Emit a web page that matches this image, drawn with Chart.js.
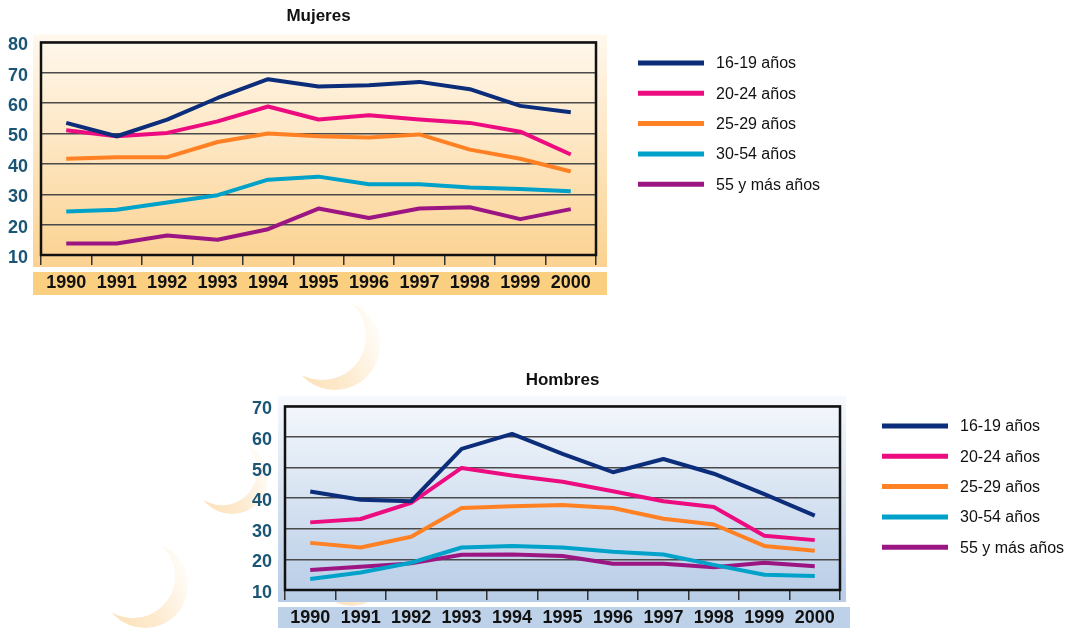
<!DOCTYPE html>
<html>
<head>
<meta charset="utf-8">
<script src="https://cdn.jsdelivr.net/npm/chart.js@4"></script>
<style>
html, body { margin: 0; padding: 0; background: #fff; }
body { width: 1077px; height: 628px; position: relative; overflow: hidden; }
#bg { position: absolute; left: 0; top: 0; }
.wrap { position: absolute; left: 0; width: 1077px; }
</style>
</head>
<body>
<canvas id="bg" width="1077" height="628"></canvas>
<div class="wrap" style="top:0;height:300px"><canvas id="mujeres"></canvas></div>
<div class="wrap" style="top:365px;height:263px"><canvas id="hombres"></canvas></div>
<script>
// data
var years = ['1990', '1991', '1992', '1993', '1994', '1995', '1996', '1997', '1998', '1999', '2000'];
var groups = ['16-19 años', '20-24 años', '25-29 años', '30-54 años', '55 y más años'];
var colors = ['#0B2D7A', '#EC0C80', '#FF8124', '#00A2C9', '#9B1683'];

var mujeres1619 = [53.5, 49.1, 54.6, 61.7, 67.9, 65.5, 65.9, 67.0, 64.6, 59.1, 57.0];
var mujeres2024 = [51.1, 49.1, 50.2, 54.0, 58.9, 54.6, 56.0, 54.6, 53.5, 50.6, 43.1];
var mujeres2529 = [41.7, 42.2, 42.2, 47.2, 50.0, 49.1, 48.7, 49.7, 44.7, 41.7, 37.5];
var mujeres3054 = [24.3, 24.9, 27.3, 29.7, 34.8, 35.8, 33.3, 33.3, 32.2, 31.7, 31.0];
var mujeres55 = [13.8, 13.8, 16.4, 15.0, 18.5, 25.3, 22.2, 25.3, 25.7, 21.8, 25.1];

var hombres1619 = [42.2, 39.5, 39.0, 56.1, 61.0, 54.5, 48.5, 52.8, 48.0, 41.3, 34.3];
var hombres2024 = [32.1, 33.2, 38.5, 49.9, 47.4, 45.4, 42.3, 39.0, 37.1, 27.7, 26.3];
var hombres2529 = [25.4, 23.9, 27.4, 36.8, 37.4, 37.8, 36.8, 33.3, 31.4, 24.4, 22.8];
var hombres3054 = [13.6, 15.7, 18.9, 23.9, 24.4, 23.9, 22.5, 21.6, 18.2, 15.0, 14.6];
var hombres55 = [16.5, 17.6, 18.7, 21.5, 21.6, 21.1, 18.6, 18.6, 17.4, 18.9, 17.8];

var FONT = '"Liberation Sans", Arial, sans-serif';

// pale crescents in the page background
function crescent(ctx, cx, cy, r, dx, dy) {
    var g = ctx.createLinearGradient(cx - r, cy + r * 0.6, cx + r, cy - r * 0.2);
    g.addColorStop(0, 'rgba(252,224,182,1)');
    g.addColorStop(0.5, 'rgba(253,234,206,1)');
    g.addColorStop(1, 'rgba(255,252,247,1)');
    ctx.fillStyle = g;
    ctx.beginPath();
    ctx.arc(cx, cy, r, 0, Math.PI * 2);
    ctx.fill();
    ctx.fillStyle = '#fff';
    ctx.beginPath();
    ctx.arc(cx + dx, cy + dy, r * 0.98, 0, Math.PI * 2);
    ctx.fill();
}
var bg = document.getElementById('bg').getContext('2d');
crescent(bg, 335, 345, 45, -13, -9);
crescent(bg, 232, 478, 36, -10, -8);
crescent(bg, 145, 585, 43, -12, -9);
crescent(bg, 352, 570, 36, -10, -8);

// panel, frame and legend drawn around the plot
var decor = {
    id: 'decor',
    beforeDraw: function (chart, args, o) {
        var ctx = chart.ctx, a = chart.chartArea;
        var l = a.left - o.padL, r = a.right + o.padR;
        var t = a.top - o.padT, b = a.bottom + o.padB;
        var g = ctx.createLinearGradient(0, t, 0, b);
        g.addColorStop(0, o.top);
        g.addColorStop(1, o.bottom);
        ctx.save();
        ctx.fillStyle = g;
        ctx.fillRect(l, t, r - l, b - t);
        ctx.fillStyle = o.band;
        ctx.fillRect(l, a.bottom + o.bandT, a.right + o.bandR - l, o.bandH);
        ctx.restore();
    },
    beforeDatasetsDraw: function (chart) {
        var ctx = chart.ctx, a = chart.chartArea;
        ctx.save();
        ctx.strokeStyle = '#111';
        ctx.lineWidth = 2.5;
        ctx.strokeRect(a.left, a.top, a.right - a.left, a.bottom - a.top);
        ctx.restore();
    },
    afterDraw: function (chart, args, o) {
        var ctx = chart.ctx;
        ctx.save();
        ctx.font = '16px ' + FONT;
        ctx.textBaseline = 'middle';
        chart.data.datasets.forEach(function (ds, i) {
            var y = o.legY + i * 30.3;
            ctx.strokeStyle = ds.borderColor;
            ctx.lineWidth = 5;
            ctx.beginPath();
            ctx.moveTo(o.legX, y);
            ctx.lineTo(o.legX + 66, y);
            ctx.stroke();
            ctx.fillStyle = '#111';
            ctx.fillText(ds.label, o.legX + 78, y + 1);
        });
        ctx.restore();
    }
};

function sets(list) {
    return list.map(function (d, i) {
        return {
            label: groups[i],
            data: d,
            borderColor: colors[i],
            backgroundColor: colors[i],
            borderWidth: 4,
            pointRadius: 0,
            tension: 0,
            borderJoinStyle: 'round'
        };
    });
}

function makeChart(id, title, data, yMax, cfg) {
    return new Chart(document.getElementById(id), {
        type: 'line',
        data: { labels: years, datasets: sets(data) },
        options: {
            responsive: true,
            maintainAspectRatio: false,
            animation: false,
            layout: { padding: { left: 0, right: cfg.padRight, top: 0, bottom: cfg.padBottom } },
            plugins: {
                legend: { display: false },
                tooltip: { enabled: false },
                title: {
                    display: true,
                    text: title,
                    fullSize: false,
                    color: '#111',
                    font: { family: FONT, size: 17, weight: 'bold' },
                    padding: { top: cfg.titleTop, bottom: cfg.titleBottom }
                },
                decor: cfg.decor
            },
            scales: {
                x: {
                    offset: true,
                    border: { display: false },
                    grid: { offset: true, drawOnChartArea: false, drawTicks: true, tickLength: 10, color: '#333', lineWidth: 1.5 },
                    ticks: { color: '#111', padding: 7, maxRotation: 0, autoSkip: false, font: { family: FONT, size: 18, weight: 'bold' } },
                    afterFit: function (s) { s.height = cfg.xHeight; }
                },
                y: {
                    min: 10,
                    max: yMax,
                    border: { display: false },
                    grid: { drawTicks: false, color: '#4a4a4a', lineWidth: 1.5 },
                    ticks: { stepSize: 10, padding: 13, labelOffset: 3, color: '#1B5575', font: { family: FONT, size: 18, weight: 'bold' } },
                    afterFit: function (s) { s.width = cfg.yWidth; }
                }
            }
        },
        plugins: [decor]
    });
}

makeChart('mujeres', 'Mujeres',
    [mujeres1619, mujeres2024, mujeres2529, mujeres3054, mujeres55], 80, {
        padRight: 1077 - 596, padBottom: 5, titleTop: 6, titleBottom: 16,
        xHeight: 40, yWidth: 41,
        decor: {
            padL: 8, padR: 11, padT: 8, padB: 12,
            bandT: 17, bandH: 23, bandR: 11,
            top: '#FFF8EE', bottom: '#FBD290', band: '#FBCF80',
            legX: 638, legY: 63
        }
    });

makeChart('hombres', 'Hombres',
    [hombres1619, hombres2024, hombres2529, hombres3054, hombres55], 70, {
        padRight: 1077 - 840, padBottom: 0, titleTop: 5, titleBottom: 16,
        xHeight: 38, yWidth: 285,
        decor: {
            padL: 7, padR: 6, padT: 11, padB: 12,
            bandT: 17, bandH: 21, bandR: 10,
            top: '#F6F9FD', bottom: '#B7CCE6', band: '#BDD1E9',
            legX: 882, legY: 61
        }
    });
</script>
</body>
</html>
